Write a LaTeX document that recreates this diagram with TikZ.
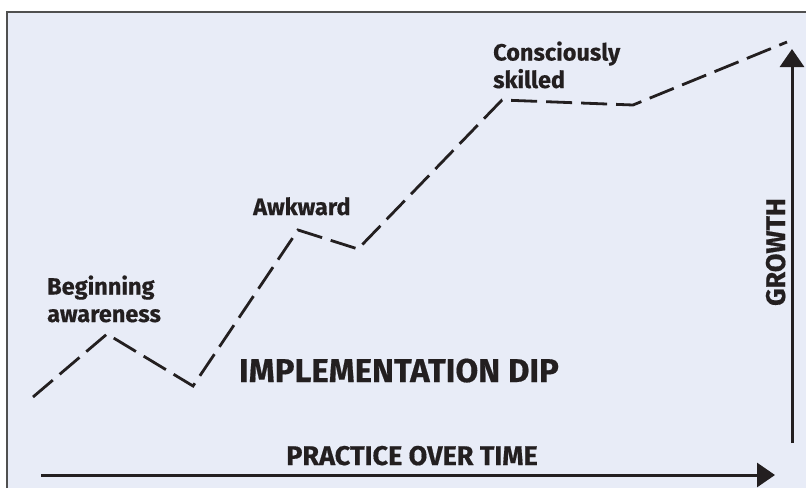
\documentclass[tikz,border=0pt]{standalone}
\usepackage{fontspec}
\setmainfont{Fira Sans}[BoldFeatures={FakeBold=0.5}]
\usetikzlibrary{arrows.meta}
\definecolor{panel}{RGB}{232,236,247}
\definecolor{ink}{RGB}{35,31,32}
\definecolor{rim}{RGB}{80,80,80}
\begin{document}
\begin{tikzpicture}[x=1pt,y=-1pt,
  label/.style={inner sep=0pt, text=ink, font=\bfseries\fontsize{23.5}{27.5}\selectfont, align=left},
  curve/.style={ink, line width=2.8pt, dash pattern=on 26pt off 9pt},
  axis/.style={ink, line width=3pt, -{Triangle[length=18pt,width=24pt]}}]
\useasboundingbox (0,0) rectangle (806,488);
% panel with frame on the left and top
\fill[panel] (7,12) rectangle (806,488);
\draw[rim, line width=2pt] (7,488) -- (7,12) -- (806,12);
% growth curve vertices
\coordinate (p0) at (33,397);
\coordinate (p1) at (107,334);
\coordinate (p2) at (193,386);
\coordinate (p3) at (298,230);
\coordinate (p4) at (358,249);
\coordinate (p5) at (502,100);
\coordinate (p6) at (633,105);
\coordinate (p7) at (787,42);
\draw[curve] (p0) -- (p1) -- (p2) -- (p3) -- (p4) -- (p5) -- (p6) -- (p7);
% axes
\coordinate (xs) at (41,475);
\coordinate (xe) at (775,475);
\coordinate (ys) at (792,443);
\coordinate (ye) at (792,49);
\draw[axis] (xs) -- (xe);
\draw[axis] (ys) -- (ye);
% labels (base anchor sits on the last line)
\node[label, anchor=base west] (lbeg) at (47,322) {Beginning\\awareness};
\node[label, anchor=base west] (lawk) at (253,215) {Awkward};
\node[label, anchor=base west] (lcon) at (493,88) {Consciously\\skilled};
\node[label, anchor=base, font=\bfseries\fontsize{33}{33}\selectfont] (ldip) at (399,382) {IMPLEMENTATION DIP};
\node[label, anchor=base, font=\bfseries\fontsize{27}{27}\selectfont] (lpra) at (412,465) {PRACTICE OVER TIME};
\node[label, anchor=base, rotate=90, font=\bfseries\fontsize{27}{27}\selectfont] (lgro) at (785,252) {GROWTH};
\end{tikzpicture}
\end{document}
